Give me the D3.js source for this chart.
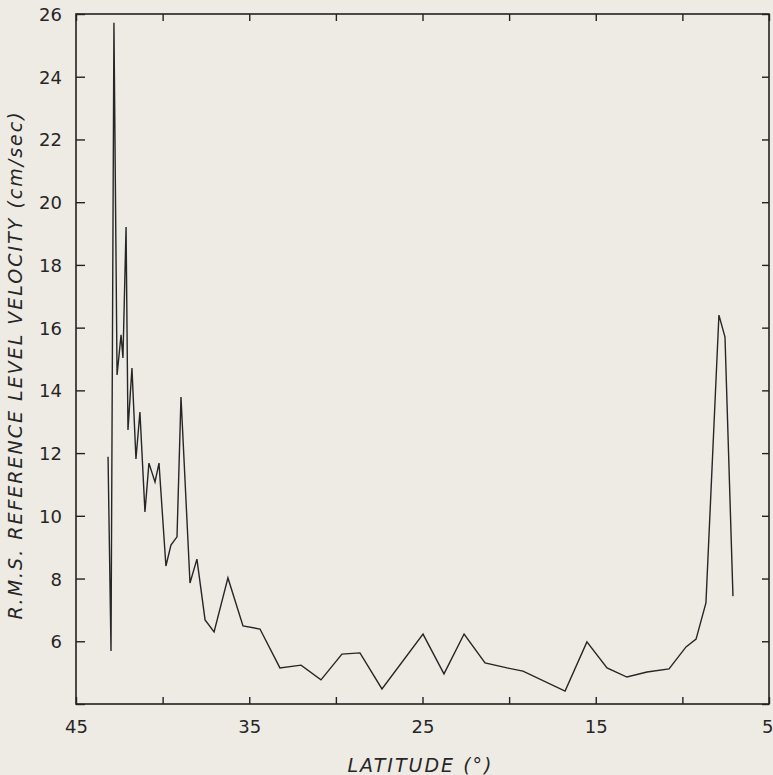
<!DOCTYPE html>
<html>
<head>
<meta charset="utf-8">
<script src="https://cdn.jsdelivr.net/npm/d3@7"></script>
<style>
  html, body { margin: 0; padding: 0; background: #eeebe5; }
  svg { display: block; }
  .tick text { font-family: "DejaVu Sans", sans-serif; font-size: 18px; fill: #262626; }
  .tick line { stroke: #222; stroke-width: 1.4; }
  .domain { display: none; }
  .title { font-family: "DejaVu Sans", sans-serif; font-style: italic; font-size: 19px; fill: #262626; letter-spacing: 2px; }
</style>
</head>
<body>
<div id="chart"></div>
<script>
/* DATA */
const latitude = [43.15, 42.98, 42.81, 42.63, 42.40, 42.29, 42.11, 42.00, 41.77, 41.54,
  41.31, 41.02, 40.79, 40.44, 40.21, 39.81, 39.52, 39.17, 38.94, 38.42,
  38.02, 37.55, 37.03, 36.23, 35.36, 34.38, 33.23, 32.01, 30.86, 29.65,
  28.61, 27.34, 24.97, 23.76, 22.60, 21.39, 20.12, 19.20, 16.77, 15.51,
  14.35, 13.20, 12.04, 10.77, 9.79, 9.21, 8.64, 7.89, 7.54, 7.08];
const rmsVelocity = [11.88, 5.69, 25.72, 14.49, 15.77, 15.03, 19.21, 12.74, 14.71, 11.81,
  13.31, 10.12, 11.68, 11.08, 11.68, 8.40, 9.07, 9.33, 13.79, 7.86,
  8.62, 6.68, 6.30, 8.02, 6.49, 6.39, 5.15, 5.24, 4.77, 5.59,
  5.63, 4.48, 6.23, 4.96, 6.23, 5.31, 5.15, 5.05, 4.41, 5.98,
  5.15, 4.86, 5.02, 5.12, 5.82, 6.07, 7.22, 16.40, 15.70, 7.44];
const xTicks = [45, 40, 35, 30, 25, 20, 15, 10, 5];
const xLabels = [45, 35, 25, 15, 5];
const yTicks = [4, 6, 8, 10, 12, 14, 16, 18, 20, 22, 24, 26];
const yLabels = [6, 8, 10, 12, 14, 16, 18, 20, 22, 24, 26];

const W = 773, H = 775;
const margin = {top: 14, right: 4, bottom: 71, left: 76};
const width = W - margin.left - margin.right;
const height = H - margin.top - margin.bottom;

const data = latitude.map((d, i) => ({lat: d, v: rmsVelocity[i]}));

const svg = d3.select("#chart").append("svg")
  .attr("width", W)
  .attr("height", H);

const g = svg.append("g")
  .attr("transform", `translate(${margin.left},${margin.top})`);

// scales
const x = d3.scaleLinear().domain([45, 5]).range([0, width]);
const y = d3.scaleLinear().domain([4, 26]).range([height, 0]);

// axes, ticks pointing inward
const fmtX = d => xLabels.includes(d) ? d : "";
const fmtY = d => yLabels.includes(d) ? d : "";

const xAxis = g.append("g")
  .attr("transform", `translate(0,${height})`)
  .call(d3.axisBottom(x).tickValues(xTicks).tickSize(-7).tickPadding(16).tickFormat(fmtX));

// last label sits at the page edge, keep it inside
xAxis.selectAll(".tick text")
  .filter(d => d === 5)
  .attr("text-anchor", "end")
  .attr("dx", 4);

g.append("g")
  .call(d3.axisTop(x).tickValues(xTicks).tickSize(-7).tickFormat(""));

g.append("g")
  .call(d3.axisLeft(y).tickValues(yTicks).tickSize(-9).tickPadding(14).tickFormat(fmtY))
  .selectAll("text").attr("dy", "0.36em");

g.append("g")
  .attr("transform", `translate(${width},0)`)
  .call(d3.axisRight(y).tickValues(yTicks).tickSize(-7).tickFormat(""));

// frame
g.append("rect")
  .attr("width", width)
  .attr("height", height)
  .attr("fill", "none")
  .attr("stroke", "#222")
  .attr("stroke-width", 1.6);

// line
const line = d3.line()
  .x(d => x(d.lat))
  .y(d => y(d.v));

g.append("path")
  .datum(data)
  .attr("d", line)
  .attr("fill", "none")
  .attr("stroke", "#262626")
  .attr("stroke-width", 1.4)
  .attr("stroke-linejoin", "miter");

// axis titles
svg.append("text")
  .attr("class", "title")
  .attr("x", margin.left + x(25) - 2)
  .attr("y", 772)
  .attr("text-anchor", "middle")
  .text("LATITUDE (°)");

svg.append("text")
  .attr("class", "title")
  .attr("transform", `translate(22,${365}) rotate(-90)`)
  .attr("text-anchor", "middle")
  .text("R.M.S.  REFERENCE  LEVEL  VELOCITY  (cm/sec)");
</script>
</body>
</html>
